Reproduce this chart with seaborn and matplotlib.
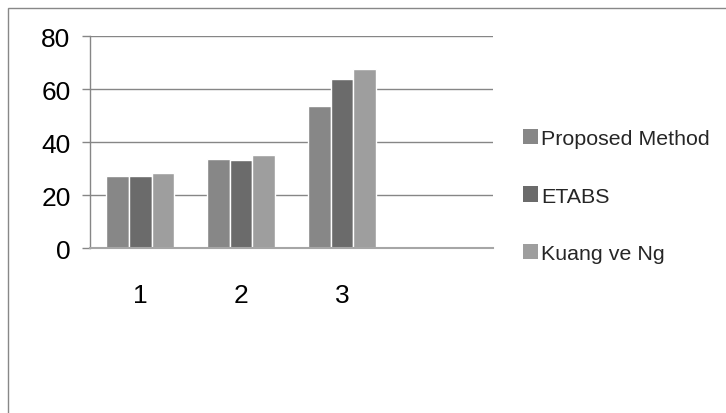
import matplotlib
matplotlib.use("Agg")
import matplotlib.pyplot as plt
from matplotlib.patches import Rectangle
import pandas as pd
import seaborn as sns


CATEGORIES = ["1", "2", "3", ""]
SERIES = ["Proposed Method", "ETABS", "Kuang ve Ng"]
PROPOSED = [27.3, 33.7, 53.7]
ETABS = [27.3, 33.3, 63.9]
KUANG = [28.4, 35.2, 67.7]
COLORS = ["#878787", "#6b6b6b", "#9e9e9e"]
Y_TICKS = [0, 20, 40, 60, 80]


def build_frame() -> pd.DataFrame:
    rows = []
    for name, values in zip(SERIES, [PROPOSED, ETABS, KUANG]):
        for cat, val in zip(CATEGORIES, values):
            rows.append({"case": cat, "series": name, "value": val})
    return pd.DataFrame(rows)


def main() -> None:
    sns.set_theme(style="white")
    plt.rcParams["font.family"] = ["Liberation Sans", "DejaVu Sans"]

    df = build_frame()
    fig = plt.figure(figsize=(7.26, 4.14), dpi=100)
    ax = fig.add_axes([90 / 726, 1 - 249.3 / 414, (493 - 90) / 726, (249.3 - 37.3) / 414])

    sns.barplot(
        data=df, x="case", y="value", hue="series", order=CATEGORIES, hue_order=SERIES,
        palette=COLORS, width=0.675, gap=0, saturation=1, errorbar=None, ax=ax, legend=False,
    )

    ax.set_ylim(0, 80)
    ax.set_yticks(Y_TICKS)
    ax.set_xlim(-0.5, len(CATEGORIES) - 0.5)
    ax.yaxis.grid(True, color="#868686", linewidth=1)
    ax.set_axisbelow(True)
    ax.set_xlabel("")
    ax.set_ylabel("")
    for side in ["top", "right"]:
        ax.spines[side].set_visible(False)
    ax.spines["left"].set_color("#868686")
    ax.spines["left"].set_linewidth(1)
    ax.spines["bottom"].set_color("#a6a6a6")
    ax.spines["bottom"].set_linewidth(1.5)
    ax.tick_params(axis="y", left=True, length=6, width=1, color="#868686", pad=8, labelsize=19, labelcolor="black")
    ax.tick_params(axis="x", bottom=False, pad=19, labelsize=19, labelcolor="black")

    handles = [Rectangle((0, 0), 1, 1, facecolor=c, edgecolor="none") for c in COLORS]
    fig.legend(
        handles, SERIES, loc="center left", bbox_to_anchor=(523 / 726, 1 - 197 / 414),
        frameon=False, fontsize=15.4, handlelength=0.72, handleheight=0.72,
        handletextpad=0.12, labelspacing=1.8, borderpad=0, borderaxespad=0,
    )

    fig.patches.append(Rectangle(
        (8 / 726, -0.1), 1.0, 1.1 - 9 / 414, transform=fig.transFigure,
        fill=False, edgecolor="#888888", linewidth=1,
    ))

    fig.savefig("out.png", dpi=100)
    plt.close(fig)


if __name__ == "__main__":
    main()
